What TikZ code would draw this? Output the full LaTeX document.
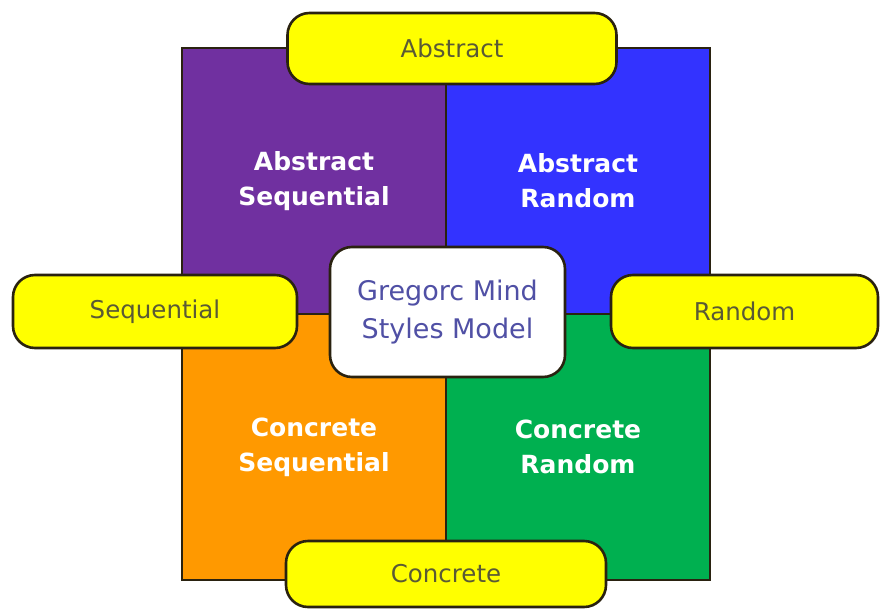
\documentclass[tikz,border=0pt]{standalone}
\usepackage{fontspec}
\setmainfont{DejaVu Sans}
\usepackage{tikz}
\usetikzlibrary{positioning}

\definecolor{absseqcol}{HTML}{7030A0}
\definecolor{absrndcol}{HTML}{3333FF}
\definecolor{consegcol}{HTML}{FF9900}
\definecolor{conrndcol}{HTML}{00B050}
\definecolor{pillcol}{HTML}{FFFF00}
\definecolor{edgecol}{HTML}{2A2210}
\definecolor{pilltext}{HTML}{5A5A35}
\definecolor{titletext}{HTML}{5050A5}

\begin{document}
\begin{tikzpicture}[x=1pt, y=-1pt,
  quad/.style   ={draw=edgecol, line width=1.6pt, minimum width=264pt,
                  minimum height=266pt, inner sep=0pt, align=center,
                  text=white, font=\fontsize{25}{35}\selectfont\bfseries},
  pill/.style   ={draw=edgecol, line width=2.6pt, fill=pillcol,
                  rounded corners=22pt, inner sep=0pt,
                  text=pilltext, font=\fontsize{24.5}{30}\selectfont},
  centrebox/.style={draw=edgecol, line width=2.6pt, fill=white,
                  rounded corners=22pt, inner sep=0pt, align=center,
                  minimum width=235pt, minimum height=130pt,
                  text=titletext, font=\fontsize{27}{38}\selectfont}]
\useasboundingbox (0,0) rectangle (883,610);

%% ── Four quadrants ───────────────────────────────────────────────
\node[quad, fill=absseqcol] (absseq) at (314,181) {Abstract\\Sequential};
\node[quad, fill=absrndcol] (absrnd) at (578,181) {Abstract\\Random};
\node[quad, fill=consegcol] (conseq) at (314,447) {Concrete\\Sequential};
\node[quad, fill=conrndcol] (conrnd) at (578,447) {Concrete\\Random};

%% ── Axis labels ──────────────────────────────────────────────────
\node[pill, minimum width=329pt, minimum height=71pt] (abstract)   at (452,48.5) {Abstract};
\node[pill, minimum width=320pt, minimum height=66pt] (concrete)   at (446,574)  {Concrete};
\node[pill, minimum width=284pt, minimum height=73pt] (sequential) at (155,311.5) {Sequential};
\node[pill, minimum width=267pt, minimum height=73pt] (random)     at (744.5,311.5) {Random};

%% ── Centre title ─────────────────────────────────────────────────
\node[centrebox] (title) at (447.5,312) {Gregorc Mind\\Styles Model};
\end{tikzpicture}
\end{document}
